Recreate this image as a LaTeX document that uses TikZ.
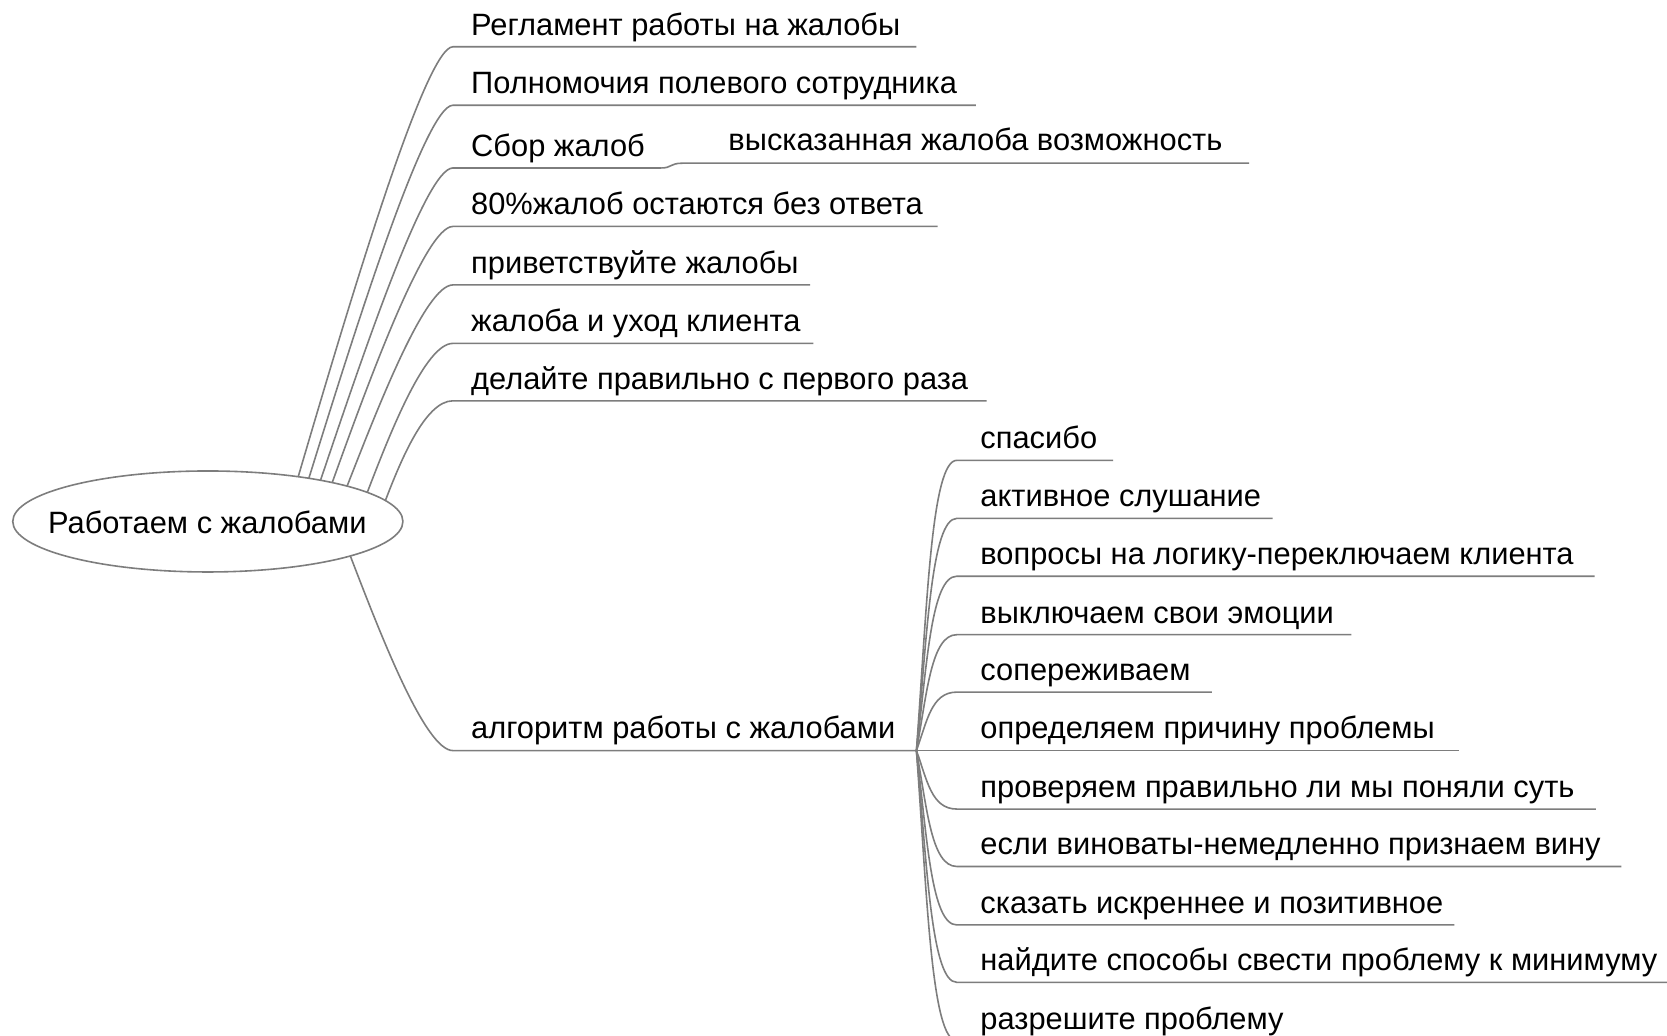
\documentclass[tikz,border=0pt]{standalone}
\usepackage{fontspec}
\setmainfont{Liberation Sans}
\usetikzlibrary{shapes.geometric}
\definecolor{linecol}{RGB}{125,125,125}
\begin{document}
\begin{tikzpicture}[x=1pt,y=-1pt,
  conn/.style={draw=linecol,line width=1.5pt},
  lbl/.style={anchor=base west,inner sep=0pt,font=\fontsize{29}{33}\selectfont,text=black}]
\useasboundingbox (0,0) rectangle (1568,974);
\fill[white] (0,0) rectangle (1568,974);
\begin{scope}
\clip (0,0) rectangle (1568,974);
% root
\node[draw=linecol,line width=1.5pt,ellipse,minimum width=367pt,minimum height=95pt,inner sep=0pt] (root) at (195.5,490.5) {};
\node[lbl,anchor=base] (roottxt) at (195,502) {Работаем с жалобами};
% top-level labels
\node[lbl] (t1) at (443,33) {Регламент работы на жалобы};
\node[lbl] (t2) at (443,88) {Полномочия полевого сотрудника};
\node[lbl] (t3) at (443,147) {Сбор жалоб};
\node[lbl] (c3) at (685,142) {высказанная жалоба возможность};
\node[lbl] (t4) at (443,202) {80\%жалоб остаются без ответа};
\node[lbl] (t5) at (443,257) {приветствуйте жалобы};
\node[lbl] (t6) at (443,312) {жалоба и уход клиента};
\node[lbl] (t7) at (443,366) {делайте правильно с первого раза};
\node[lbl] (t8) at (443,695) {алгоритм работы с жалобами};
% sub labels
\node[lbl] (s1) at (922,422) {спасибо};
\node[lbl] (s2) at (922,476.6) {активное слушание};
\node[lbl] (s3) at (922,531) {вопросы на логику-переключаем клиента};
\node[lbl] (s4) at (922,586) {выключаем свои эмоции};
\node[lbl] (s5) at (922,640) {сопереживаем};
\node[lbl] (s6) at (922,695) {определяем причину проблемы};
\node[lbl] (s7) at (922,750) {проверяем правильно ли мы поняли суть};
\node[lbl] (s8) at (922,804) {если виноваты-немедленно признаем вину};
\node[lbl] (s9) at (922,859) {сказать искреннее и позитивное};
\node[lbl] (s10) at (922,913) {найдите способы свести проблему к минимуму};
\node[lbl] (s11) at (922,968) {разрешите проблему};
% exit points on the ellipse
\coordinate (e1) at (280.5,448.4);
\coordinate (e2) at (290.5,449.9);
\coordinate (e3) at (301.5,451.7);
\coordinate (e4) at (312.5,453.9);
\coordinate (e5) at (326.5,457.2);
\coordinate (e6) at (345.5,463.1);
\coordinate (e7) at (362.5,470.8);
\coordinate (e8) at (329.5,522.9);
\coordinate (fan) at (862,706);
\coordinate (sb) at (622,158);
% top-level connectors
\draw[conn] (e1) .. controls (328,287) and (400,44) .. (426,44) -- (862,44);
\draw[conn] (e2) .. controls (334,310) and (400,99) .. (426,99) -- (918,99);
\draw[conn] (e3) .. controls (341,335) and (400,158) .. (426,158) -- (sb);
\draw[conn] (sb) .. controls (632,158) and (630,153.5) .. (642,153.5) -- (1175,153.5);
\draw[conn] (e4) .. controls (347,358) and (400,213) .. (426,213) -- (882,213);
\draw[conn] (e5) .. controls (356,382) and (400,268) .. (426,268) -- (762,268);
\draw[conn] (e6) .. controls (367,407) and (400,323) .. (426,323) -- (765,323);
\draw[conn] (e7) .. controls (377,433) and (400,377) .. (426,377) -- (928,377);
\draw[conn] (e8) .. controls (358,597) and (400,706) .. (426,706) -- (fan);
% sub connectors
\draw[conn] (fan) .. controls (872,569.5) and (876,433) .. (900,433) -- (1047,433);
\draw[conn] (fan) .. controls (872,596.8) and (876,487.6) .. (900,487.6) -- (1197,487.6);
\draw[conn] (fan) .. controls (872,624) and (876,542) .. (900,542) -- (1500,542);
\draw[conn] (fan) .. controls (872,651.5) and (876,597) .. (900,597) -- (1271,597);
\draw[conn] (fan) .. controls (872,678.5) and (876,651) .. (900,651) -- (1140,651);
\draw[conn] (fan) -- (1372,706);
\draw[conn] (fan) .. controls (872,733.5) and (876,761) .. (900,761) -- (1501,761);
\draw[conn] (fan) .. controls (872,760.5) and (876,815) .. (900,815) -- (1525,815);
\draw[conn] (fan) .. controls (872,788) and (876,870) .. (900,870) -- (1368,870);
\draw[conn] (fan) .. controls (872,815) and (876,924) .. (900,924) -- (1568,924);
\draw[conn] (fan) .. controls (872,842.5) and (876,979) .. (900,979) -- (1300,979);
\end{scope}
\end{tikzpicture}
\end{document}
